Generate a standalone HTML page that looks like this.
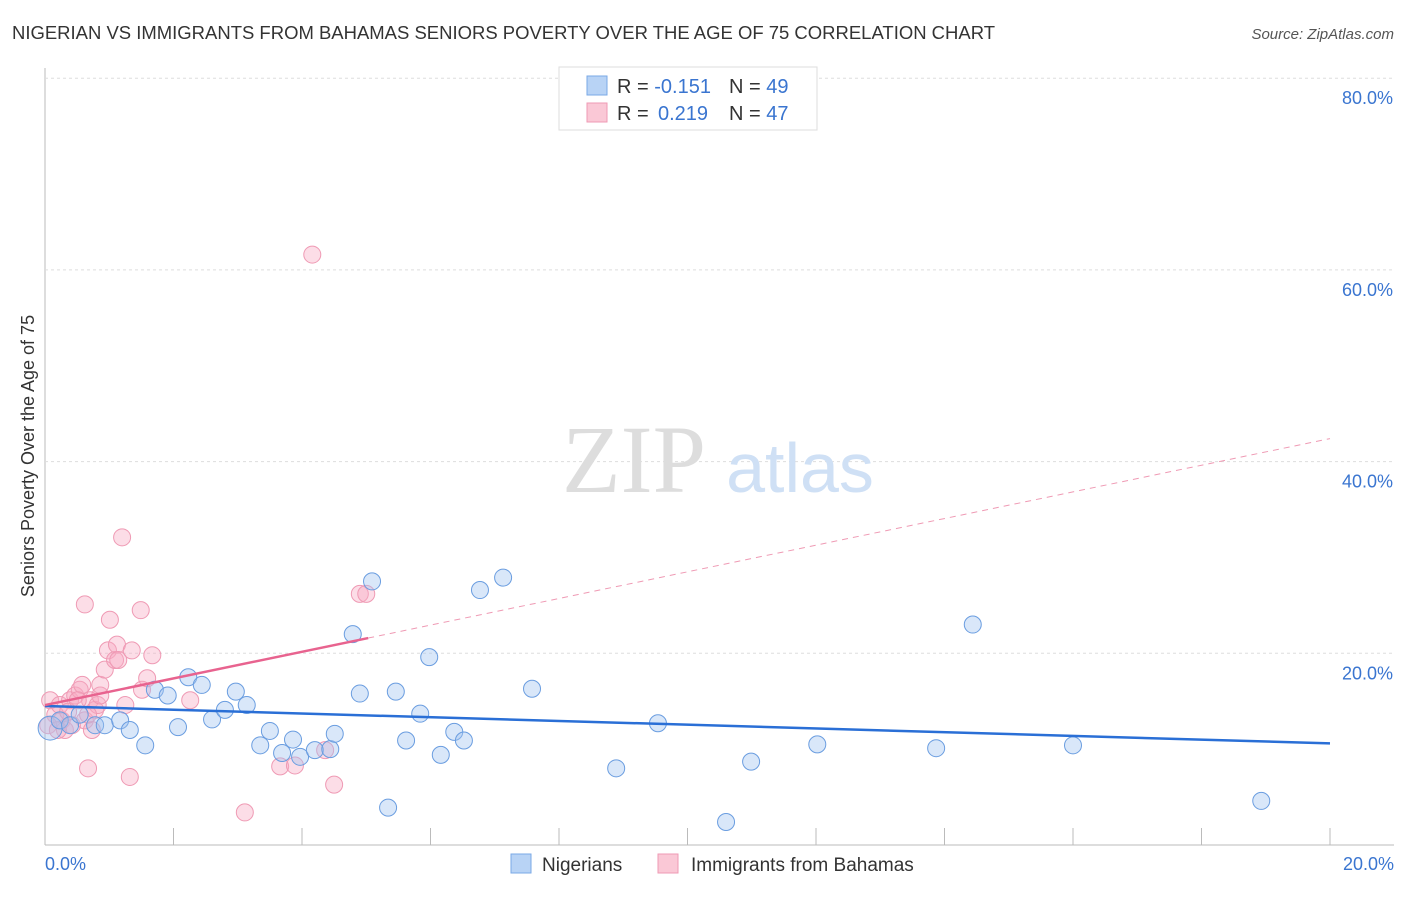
<!DOCTYPE html>
<html><head><meta charset="utf-8"><style>
body{margin:0;background:#fff;font-family:"Liberation Sans",sans-serif}
</style></head><body>
<svg width="1406" height="892" xmlns="http://www.w3.org/2000/svg">
<text x="12" y="39" font-size="18" fill="#333" textLength="983" lengthAdjust="spacingAndGlyphs">NIGERIAN VS IMMIGRANTS FROM BAHAMAS SENIORS POVERTY OVER THE AGE OF 75 CORRELATION CHART</text>
<text x="1394" y="39" font-size="15" fill="#555" font-style="italic" text-anchor="end">Source: ZipAtlas.com</text>
<g id="grid"></g>
<text x="634" y="492" font-size="96" fill="#ddd" font-family="Liberation Serif,serif" text-anchor="middle">ZIP</text>
<text x="800" y="492" font-size="70" fill="#cfe0f5" text-anchor="middle">atlas</text>
<g id="marks"></g>
<text transform="translate(34,456) rotate(-90)" font-size="18" fill="#333" text-anchor="middle">Seniors Poverty Over the Age of 75</text>
<text x="45" y="870" font-size="18" fill="#3a75d0">0.0%</text>
<text x="1394" y="870" font-size="18" fill="#3a75d0" text-anchor="end">20.0%</text>
<g>
<rect x="559" y="67" width="258" height="63" fill="#fff" stroke="#ddd"/>
<rect x="587" y="76" width="20" height="19" fill="#b8d3f5" stroke="#7aa8e6"/>
<rect x="587" y="103" width="20" height="19" fill="#fac8d6" stroke="#ef9ab4"/>
<text x="617" y="93" font-size="20" fill="#333">R = <tspan fill="#3a75d0">-0.151</tspan><tspan x="729">N = </tspan><tspan fill="#3a75d0">49</tspan></text>
<text x="617" y="120" font-size="20" fill="#333">R = <tspan x="658" fill="#3a75d0">0.219</tspan><tspan x="729">N = </tspan><tspan fill="#3a75d0">47</tspan></text>
</g>
<g>
<rect x="511" y="854" width="20" height="19" fill="#b8d3f5" stroke="#7aa8e6"/>
<text x="542" y="871" font-size="19" fill="#333">Nigerians</text>
<rect x="658" y="854" width="20" height="19" fill="#fac8d6" stroke="#ef9ab4"/>
<text x="691" y="871" font-size="19" fill="#333">Immigrants from Bahamas</text>
</g>
</svg>
<script>
const yTicks=[20,40,60,80];
const yTickLabels=["20.0%","40.0%","60.0%","80.0%"];
const xTicks=[0,2,4,6,8,10,12,14,16,18,20];
const blueX=[0.08,0.23,0.39,0.54,0.78,0.93,1.17,1.32,1.56,1.71,1.91,2.07,2.23,2.44,2.60,2.80,2.97,3.14,3.35,3.50,3.69,3.86,3.97,4.20,4.44,4.51,4.79,4.90,5.09,5.34,5.46,5.62,5.84,5.98,6.16,6.37,6.52,6.77,7.13,7.58,8.89,9.54,10.60,10.99,12.02,13.87,14.44,16.00,18.93];
const blueY=[12.2,13.0,12.5,13.6,12.5,12.5,13.0,12.0,10.4,16.2,15.6,12.3,17.5,16.7,13.1,14.1,16.0,14.6,10.4,11.9,9.6,11.0,9.2,9.9,10.0,11.6,22.0,15.8,27.5,3.9,16.0,10.9,13.7,19.6,9.4,11.8,10.9,26.6,27.9,16.3,8.0,12.7,2.4,8.7,10.5,10.1,23.0,10.4,4.6];
const pinkX=[0.08,0.16,0.23,0.26,0.31,0.39,0.42,0.47,0.54,0.58,0.62,0.67,0.70,0.73,0.78,0.82,0.86,0.86,0.93,0.98,1.01,1.09,1.12,1.14,1.20,1.25,1.32,1.35,1.49,1.51,1.59,1.67,2.26,3.11,3.66,3.89,4.16,4.36,4.50,4.90,5.00,0.05,0.20,0.36,0.51,0.67,0.62];
const pinkY=[15.1,13.6,14.6,13.0,12.0,15.1,12.5,15.6,16.2,16.7,13.0,8.0,15.1,12.0,14.1,14.6,15.6,16.7,18.3,20.3,23.5,19.3,20.9,19.3,32.1,14.6,7.1,20.3,24.5,16.2,17.4,19.8,15.1,3.4,8.2,8.3,61.6,9.9,6.3,26.2,26.2,12.5,12.0,13.9,15.1,13.6,25.1];
const blueTrend=[14.5,10.6];
const pinkTrend=[14.6,1.39];
const NS="http://www.w3.org/2000/svg";
const sx=v=>45+v/20*1285;
const sy=v=>845-v*9.585;
function mk(t,a,p){const e=document.createElementNS(NS,t);for(const k in a)e.setAttribute(k,a[k]);p.appendChild(e);return e;}
const g=document.getElementById('grid'),m=document.getElementById('marks');
let ax=mk('line',{x1:45,y1:68,x2:45,y2:845,stroke:'#bbb'},g);


let bx=mk('line',{x1:45,y1:845,x2:1394,y2:845,stroke:'#bbb'},g);


yTicks.forEach((t,i)=>{
 let l=mk('line',{x1:45,y1:sy(t),x2:1394,y2:sy(t),stroke:'#ddd','stroke-dasharray':'3,3'},g);
 
 
 let tx=mk('text',{x:1393,y:sy(t)+26,'font-size':18,fill:'#3a75d0','text-anchor':'end'},g);
 tx.textContent=yTickLabels[i];
 
 
});
xTicks.forEach(t=>{
 let l=mk('line',{x1:sx(t),y1:828,x2:sx(t),y2:845,stroke:'#bbb'},g);
 
 
});
pinkX.forEach((x,i)=>{
 let c=mk('circle',{cx:sx(x),cy:sy(pinkY[i]),r:8.5,fill:'rgba(248,170,195,0.4)',stroke:'#ef9ab4','stroke-width':1},m);
 
 
});
blueX.forEach((x,i)=>{
 let c=mk('circle',{cx:sx(x),cy:sy(blueY[i]),r:i==0?12:8.5,fill:'rgba(160,195,240,0.4)',stroke:'#6a9de0','stroke-width':1},m);
 
 
});
let bl=mk('line',{x1:sx(0),y1:sy(blueTrend[0]),x2:sx(20),y2:sy(blueTrend[1]),stroke:'#2a6fd6','stroke-width':2.5},m);


let pd=mk('line',{x1:sx(5.03),y1:sy(pinkTrend[0]+pinkTrend[1]*5.03),x2:sx(20),y2:sy(pinkTrend[0]+pinkTrend[1]*20),stroke:'#ef9ab4','stroke-width':1,'stroke-dasharray':'6,5'},m);


let ps=mk('line',{x1:sx(0),y1:sy(pinkTrend[0]),x2:sx(5.03),y2:sy(pinkTrend[0]+pinkTrend[1]*5.03),stroke:'#e8638f','stroke-width':2.5},m);


</script>
</body></html>
